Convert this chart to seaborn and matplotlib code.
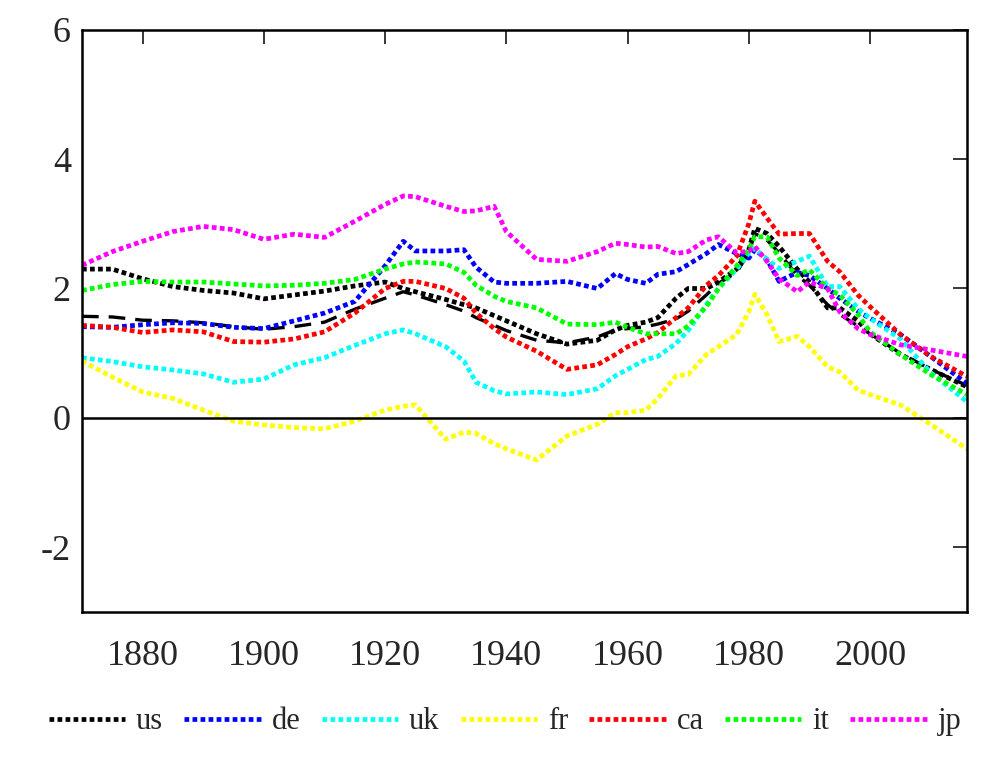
import numpy as np
import pandas as pd
import matplotlib
matplotlib.use("Agg")
import matplotlib.pyplot as plt
import seaborn as sns

# years shared by every series
years = [1870, 1875, 1880, 1885, 1890, 1895, 1900, 1905, 1910, 1915,
         1920, 1923, 1925, 1930, 1933, 1935, 1938, 1940, 1945, 1950,
         1955, 1958, 1960, 1963, 1965, 1968, 1970, 1973, 1975, 1978,
         1980, 1981, 1983, 1985, 1988, 1990, 1993, 1995, 1998, 2000,
         2005, 2010, 2016]

us = [2.30, 2.30, 2.15, 2.03, 1.97, 1.93, 1.84, 1.90, 1.96, 2.04,
      2.10, 2.00, 1.95, 1.83, 1.75, 1.70, 1.58, 1.50, 1.30, 1.14,
      1.20, 1.36, 1.43, 1.48, 1.55, 1.85, 2.00, 2.00, 2.10, 2.30,
      2.60, 2.93, 2.85, 2.65, 2.30, 2.10, 1.70, 1.70, 1.50, 1.30,
      0.98, 0.75, 0.48]
de = [1.41, 1.40, 1.44, 1.47, 1.46, 1.40, 1.38, 1.50, 1.62, 1.80,
      2.35, 2.73, 2.58, 2.58, 2.60, 2.33, 2.10, 2.08, 2.08, 2.11,
      2.00, 2.23, 2.14, 2.08, 2.22, 2.26, 2.37, 2.54, 2.68, 2.54,
      2.47, 2.60, 2.45, 2.11, 2.25, 2.20, 2.00, 1.85, 1.65, 1.54,
      1.29, 0.95, 0.53]
uk = [0.93, 0.87, 0.79, 0.74, 0.68, 0.55, 0.60, 0.82, 0.93, 1.12,
      1.30, 1.36, 1.30, 1.10, 0.88, 0.55, 0.42, 0.37, 0.40, 0.36,
      0.45, 0.65, 0.75, 0.90, 0.95, 1.15, 1.35, 1.75, 2.00, 2.30,
      2.55, 2.62, 2.45, 2.31, 2.42, 2.50, 2.03, 2.03, 1.69, 1.54,
      1.22, 0.70, 0.25]
fr = [0.88, 0.63, 0.40, 0.30, 0.12, -0.05, -0.11, -0.15, -0.17, -0.05,
      0.12, 0.18, 0.20, -0.33, -0.22, -0.24, -0.40, -0.48, -0.65, -0.28,
      -0.10, 0.08, 0.08, 0.12, 0.30, 0.65, 0.67, 0.98, 1.10, 1.29,
      1.64, 1.91, 1.60, 1.18, 1.26, 1.10, 0.79, 0.71, 0.43, 0.36,
      0.20, -0.10, -0.48]
ca = [1.43, 1.40, 1.32, 1.36, 1.33, 1.18, 1.17, 1.22, 1.33, 1.62,
      2.00, 2.11, 2.11, 2.00, 1.85, 1.62, 1.38, 1.25, 1.03, 0.75,
      0.82, 0.98, 1.10, 1.22, 1.32, 1.55, 1.70, 2.05, 2.20, 2.50,
      3.00, 3.35, 3.09, 2.84, 2.85, 2.85, 2.42, 2.26, 1.90, 1.72,
      1.29, 0.95, 0.64]
it = [1.97, 2.06, 2.11, 2.10, 2.10, 2.07, 2.04, 2.05, 2.08, 2.14,
      2.30, 2.38, 2.41, 2.38, 2.25, 2.05, 1.88, 1.80, 1.70, 1.45,
      1.44, 1.48, 1.40, 1.30, 1.30, 1.30, 1.42, 1.72, 2.00, 2.35,
      2.60, 2.80, 2.80, 2.47, 2.20, 2.29, 2.00, 1.90, 1.60, 1.33,
      0.98, 0.67, 0.36]
jp = [2.36, 2.57, 2.73, 2.88, 2.96, 2.91, 2.76, 2.84, 2.79, 3.04,
      3.30, 3.43, 3.42, 3.27, 3.19, 3.20, 3.27, 2.88, 2.45, 2.42,
      2.57, 2.70, 2.68, 2.64, 2.65, 2.54, 2.57, 2.75, 2.80, 2.55,
      2.58, 2.65, 2.42, 2.15, 1.95, 2.10, 2.00, 1.64, 1.38, 1.29,
      1.13, 1.05, 0.95]
# unlabelled black dashed series
avg = [1.57, 1.56, 1.51, 1.50, 1.47, 1.41, 1.37, 1.41, 1.48, 1.68,
       1.85, 1.95, 1.90, 1.75, 1.65, 1.55, 1.43, 1.35, 1.20, 1.16,
       1.25, 1.36, 1.38, 1.41, 1.45, 1.53, 1.65, 1.90, 2.08, 2.25,
       2.55, 2.85, 2.75, 2.55, 2.20, 2.05, 1.75, 1.60, 1.42, 1.30,
       1.00, 0.75, 0.50]

names = ["us", "de", "uk", "fr", "ca", "it", "jp"]
colors = ["#000000", "#0000ff", "#00ffff", "#ffff00", "#ff0000", "#00ff00", "#ff00ff"]

df = pd.DataFrame({"year": years, "us": us, "de": de, "uk": uk, "fr": fr,
                   "ca": ca, "it": it, "jp": jp, "avg": avg})

sns.set_style("white")
plt.rcParams["font.family"] = ["Liberation Serif", "DejaVu Serif"]
plt.rcParams["axes.unicode_minus"] = False

fig = plt.figure(figsize=(10, 7.63), dpi=100)
ax = fig.add_axes([0.082, 0.198, 0.885, 0.763])

dot = (0, (1, 0.7))
sns.lineplot(data=df, x="year", y="avg", ax=ax, color="black", lw=2.4,
             linestyle=(0, (5, 3)), label="_nolegend_")
for name, col in zip(names, colors):
    sns.lineplot(data=df, x="year", y=name, ax=ax, color=col, lw=3.4,
                 linestyle=dot, dash_capstyle="butt", label=name)

ax.axhline(0, color="black", lw=1.8)
ax.set_xlim(1870, 2016)
ax.set_ylim(-3, 6)
ax.set_xticks([1880, 1900, 1920, 1940, 1960, 1980, 2000])
ax.set_yticks([-2, 0, 2, 4, 6])
ax.set_xlabel("")
ax.set_ylabel("")
ax.tick_params(direction="in", length=10, width=1.3, labelsize=26,
               top=True, right=True)
ax.tick_params(axis="x", pad=20)
ax.tick_params(axis="y", pad=8)
for sp in ax.spines.values():
    sp.set_linewidth(1.8)
    sp.set_color("black")

ax.get_legend().remove()
handles, labels = ax.get_legend_handles_labels()
fig.legend(handles, labels, loc="center", bbox_to_anchor=(0.505, 0.054),
           ncol=7, frameon=False, fontsize=22, handlelength=2.5,
           handletextpad=0.35, columnspacing=0.7)

fig.savefig("out.png", dpi=100)
